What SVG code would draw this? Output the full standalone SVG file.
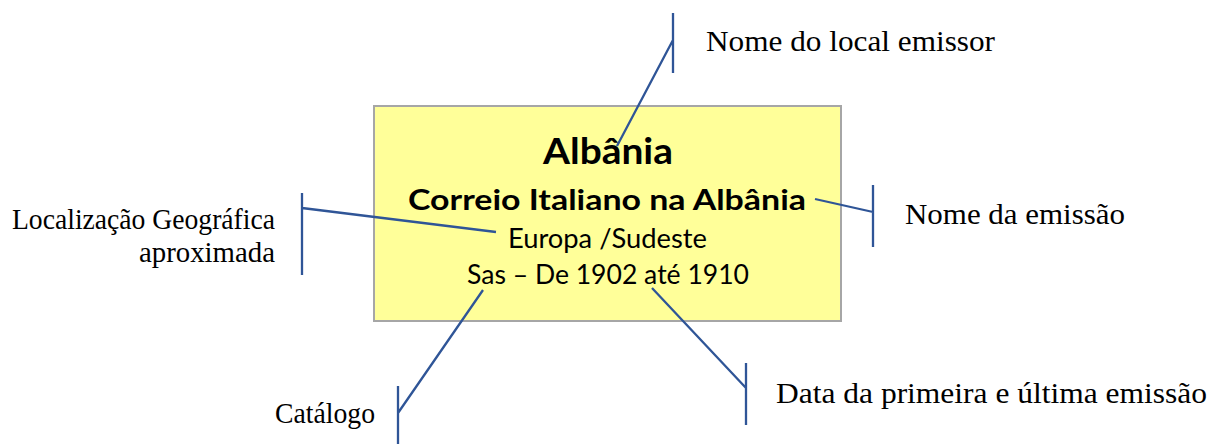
<svg xmlns="http://www.w3.org/2000/svg" width="1222" height="444" viewBox="0 0 1222 444">
<style>
.lbl{font-family:"Liberation Serif","DejaVu Serif",serif;font-size:29px;fill:#000}
.ctr{font-family:Lato,"Liberation Sans",sans-serif;fill:#000;text-anchor:middle}
.b{font-weight:bold}
.cn{stroke:#2F5597;stroke-width:2.3;fill:none}
</style>
<rect x="0" y="0" width="1222" height="444" fill="#fff"/>
<g id="card">
<rect x="374" y="106" width="467" height="215" fill="#FFFF99" stroke="#A6A6A6" stroke-width="2"/>
<text class="ctr b" x="608" y="164" font-size="37" textLength="130" lengthAdjust="spacingAndGlyphs">Albânia</text>
<text class="ctr b" x="607" y="210" font-size="29" textLength="398" lengthAdjust="spacingAndGlyphs">Correio Italiano na Albânia</text>
<text class="ctr" x="607.5" y="248" font-size="27" textLength="199" lengthAdjust="spacingAndGlyphs">Europa /Sudeste</text>
<text class="ctr" x="608" y="284" font-size="27" textLength="282" lengthAdjust="spacingAndGlyphs">Sas – De 1902 até 1910</text>
</g>
<g id="connectors">
<path class="cn" d="M673,13 V73 M617,146 L673,40"/>
<path class="cn" d="M873,185 V247 M815,199 L873,212"/>
<path class="cn" d="M302,193 V275 M302,208 L496,232"/>
<path class="cn" d="M398,386 V444 M398,413 L483,290"/>
<path class="cn" d="M746,363 V425 M652,288 L746,388"/>
</g>
<g id="label-emissor"><text class="lbl" x="706" y="51" textLength="289" lengthAdjust="spacingAndGlyphs">Nome do local emissor</text></g>
<g id="label-emissao"><text class="lbl" x="905" y="224" textLength="220" lengthAdjust="spacingAndGlyphs">Nome da emissão</text></g>
<g id="label-local">
<text class="lbl" x="275" y="229" text-anchor="end" textLength="263" lengthAdjust="spacingAndGlyphs">Localização Geográfica</text>
<text class="lbl" x="275" y="262" text-anchor="end" textLength="136" lengthAdjust="spacingAndGlyphs">aproximada</text>
</g>
<g id="label-catalogo"><text class="lbl" x="275" y="423" textLength="100" lengthAdjust="spacingAndGlyphs">Catálogo</text></g>
<g id="label-data"><text class="lbl" x="776" y="403" textLength="431" lengthAdjust="spacingAndGlyphs">Data da primeira e última emissão</text></g>
</svg>
